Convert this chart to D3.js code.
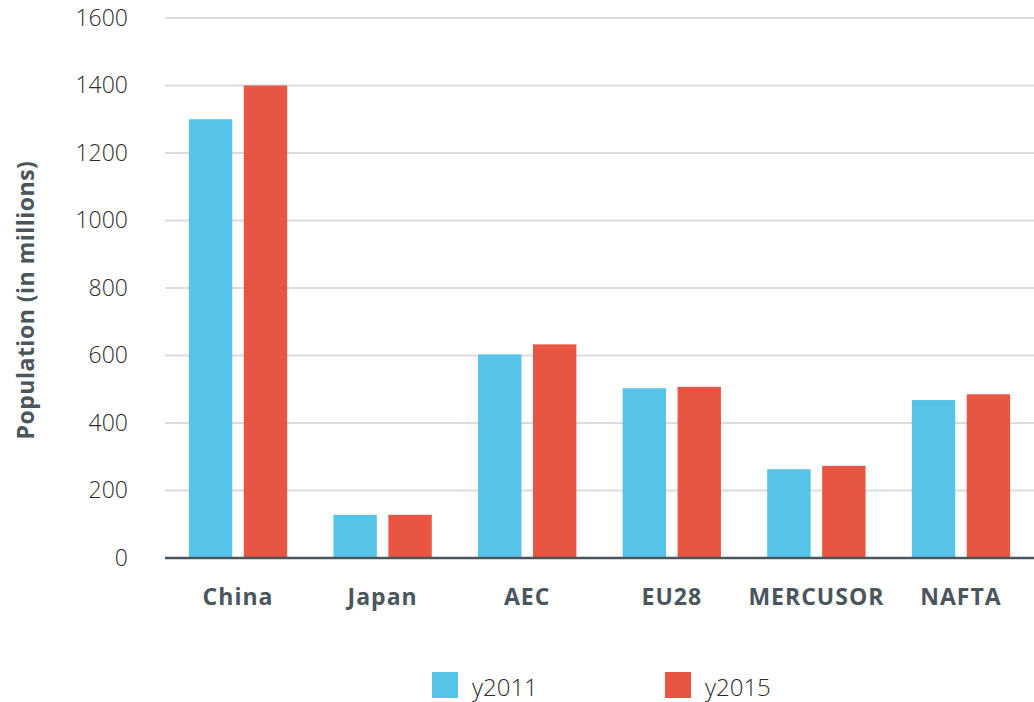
<!DOCTYPE html>
<html>
<head>
<meta charset="utf-8">
<script src="https://cdn.jsdelivr.net/npm/d3@7"></script>
<style>
  body { margin: 0; background: #fff; }
  svg { display: block; font-family: "Open Sans", Lato, sans-serif; }
</style>
</head>
<body>
<div id="chart"></div>
<script>
const categories = ['China', 'Japan', 'AEC', 'EU28', 'MERCUSOR', 'NAFTA'];
const seriesNames = ['y2011', 'y2015'];
const y2011 = [1300, 128, 603, 503, 263, 468];
const y2015 = [1400, 128, 633, 507, 273, 485];
const yTicks = [0, 200, 400, 600, 800, 1000, 1200, 1400, 1600];
const colors = ['#56c3e9', '#e85543'];

const width = 1034;
const height = 702;
const margin = { top: 18, right: 0, bottom: 144, left: 165 };

const rows = categories.map((c, i) => ({ name: c, values: [y2011[i], y2015[i]] }));

const svg = d3.select('#chart')
  .append('svg')
  .attr('width', width)
  .attr('height', height);

const x0 = d3.scaleBand()
  .domain(categories)
  .range([margin.left, width - margin.right])
  .paddingInner(0.32)
  .paddingOuter(0.165);

const x1 = d3.scaleBand()
  .domain(seriesNames)
  .range([0, x0.bandwidth()])
  .paddingInner(0.21);

const y = d3.scaleLinear()
  .domain([0, 1600])
  .range([height - margin.bottom, margin.top]);

// grid lines
svg.append('g')
  .selectAll('line')
  .data(yTicks.filter(d => d > 0))
  .join('line')
  .attr('x1', margin.left)
  .attr('x2', width)
  .attr('y1', d => y(d))
  .attr('y2', d => y(d))
  .attr('stroke', '#dcdce0')
  .attr('stroke-width', 2);

// y tick labels
const yAxis = svg.append('g')
  .attr('transform', `translate(${margin.left},0)`)
  .call(d3.axisLeft(y).tickValues(yTicks).tickFormat(d3.format('d')).tickSize(0).tickPadding(37));
yAxis.select('.domain').remove();
yAxis.selectAll('text')
  .attr('font-family', '"Open Sans", sans-serif')
  .attr('font-weight', 300)
  .attr('font-size', 23)
  .attr('fill', '#2b2b2b');

// bars
svg.append('g')
  .selectAll('g')
  .data(rows)
  .join('g')
  .attr('transform', d => `translate(${x0(d.name)},0)`)
  .selectAll('rect')
  .data(d => d.values.map((v, i) => ({ key: seriesNames[i], value: v, i })))
  .join('rect')
  .attr('x', d => x1(d.key))
  .attr('width', x1.bandwidth())
  .attr('y', d => y(d.value))
  .attr('height', d => y(0) - y(d.value))
  .attr('fill', d => colors[d.i]);

// baseline
svg.append('line')
  .attr('x1', margin.left)
  .attr('x2', width)
  .attr('y1', y(0))
  .attr('y2', y(0))
  .attr('stroke', '#4a555c')
  .attr('stroke-width', 2.5);

// category labels
const xAxis = svg.append('g')
  .attr('transform', `translate(0,${y(0)})`)
  .call(d3.axisBottom(x0).tickSize(0).tickPadding(31));
xAxis.select('.domain').remove();
xAxis.selectAll('text')
  .attr('font-family', '"Open Sans", sans-serif')
  .attr('font-weight', 700)
  .attr('font-size', 23)
  .attr('letter-spacing', 1)
  .attr('fill', '#4a555c');

// y axis title
svg.append('text')
  .attr('transform', `translate(34,300) rotate(-90)`)
  .attr('text-anchor', 'middle')
  .attr('font-weight', 700)
  .attr('font-size', 23)
  .attr('letter-spacing', 0.5)
  .attr('fill', '#4a555c')
  .text('Population (in millions)');

// legend
const legend = svg.append('g')
  .selectAll('g')
  .data(seriesNames)
  .join('g')
  .attr('transform', (d, i) => `translate(${432 + i * 233},672)`);
legend.append('rect')
  .attr('width', 26)
  .attr('height', 26)
  .attr('fill', (d, i) => colors[i]);
legend.append('text')
  .attr('x', 40)
  .attr('y', 24)
  .attr('font-weight', 300)
  .attr('font-size', 24)
  .attr('fill', '#2b2b2b')
  .text(d => d);
</script>
</body>
</html>
